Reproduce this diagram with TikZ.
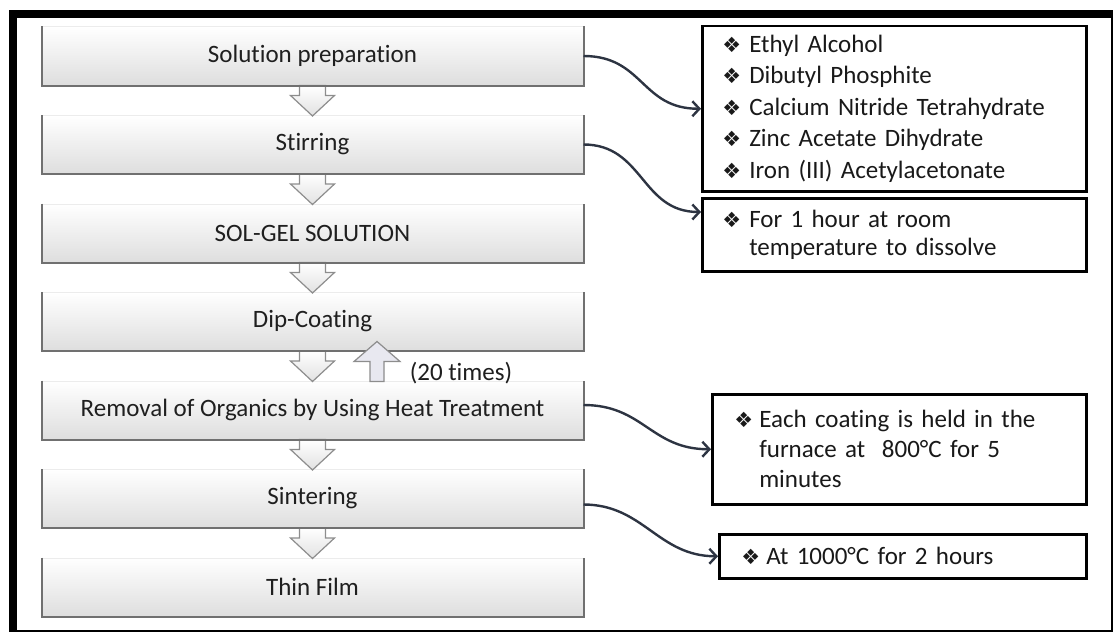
\documentclass[tikz,border=0pt]{standalone}
\usepackage{fontspec}
\setmainfont{Carlito}[Ligatures=NoCommon]
\newfontfamily\dejavu{DejaVu Sans}
\usetikzlibrary{arrows.meta,calc}
\definecolor{linkcol}{RGB}{45,52,66}
\definecolor{edgecol}{RGB}{112,112,112}
\definecolor{shadecol}{RGB}{222,222,222}
\definecolor{upcol}{RGB}{232,232,240}
\newcommand{\bul}[1][27pt]{\makebox[#1][l]{\dejavu\fontsize{21}{21}\selectfont ❖}}
\tikzset{
  stepbox/.style={draw=gray!15, line width=1pt, minimum width=541pt, minimum height=58pt,
    inner sep=0pt, top color=white, bottom color=shadecol, text=black!88,
    font=\fontsize{25}{30}\selectfont},
  boxedge/.style={draw=edgecol, line width=2pt},
  notebox/.style={draw=black, line width=2.5pt, anchor=north west, align=left,
    inner ysep=0pt, text=black!90},
  chev/.style={draw=edgecol!80, line width=1.2pt, top color=white, bottom color=shadecol!90},
  link/.style={draw=linkcol, line width=2.4pt, -{Straight Barb[length=7pt,width=15pt]}}
}
\begin{document}
\begin{tikzpicture}[x=1pt,y=-1pt]
\useasboundingbox (0,0) rectangle (1118,634);
% frame
\fill (9,10) rectangle (1113,18);
\fill (9,10) rectangle (17,632);
\draw[line width=2pt] (1112,17) -- (1112,631) -- (16,631);
% steps
\node[stepbox] (sol) at (312.5,56) {Solution preparation};
\node[stepbox] (stir) at (312.5,144.5) {Stirring};
\node[stepbox] (solgel) at (312.5,233) {SOL-GEL SOLUTION};
\node[stepbox] (dip) at (312.5,321.5) {Dip-Coating};
\node[stepbox] (removal) at (312.5,410) {Removal of Organics by Using Heat Treatment};
\node[stepbox] (sinter) at (312.5,498.5) {Sintering};
\node[stepbox] (film) at (312.5,587) {Thin Film};
\foreach \a/\b in {sol/stir,stir/solgel,solgel/dip,dip/removal,removal/sinter,sinter/film}
  \draw[chev] ($(\a.south)+(-13,0)$) -- ($(\a.south)+(13,0)$) -- ($(\a.south)+(13,10)$)
    -- ($(\a.south)+(22,10)$) -- ($(\b.north)+(0,1)$) -- ($(\a.south)+(-22,10)$)
    -- ($(\a.south)+(-13,10)$) -- cycle;
\foreach \n in {sol,stir,solgel,dip,removal,sinter,film}
  \draw[boxedge] (\n.north west) -- (\n.south west) -- (\n.south east) -- (\n.north east);
% repeat
\draw[chev, top color=upcol, bottom color=upcol] ($(removal.north)+(57.5,1)$) -- ++(14,0) -- ++(0,-20)
  -- ++(16,0) -- ++(-23,-20) -- ++(-23,20) -- ++(16,0) -- cycle;
\node[font=\fontsize{25}{30}\selectfont, text=black!88] (times) at (461,373) {(20 times)};
% notes
\node[notebox, inner xsep=20pt, text width=344pt, minimum height=165pt,
  font=\fontsize{25}{31.5}\selectfont] (chem) at (701,25)
  {\bul Ethyl Alcohol\\ \bul Dibutyl Phosphite\\ \bul Calcium Nitride Tetrahydrate\\
   \bul Zinc Acetate Dihydrate\\ \bul Iron (III) Acetylacetonate};
\node[notebox, inner xsep=20pt, text width=344pt, minimum height=73pt,
  font=\fontsize{25}{28}\selectfont] (stirnote) at (701,197)
  {\bul For 1 hour at room\\ \hspace*{27pt}temperature to dissolve};
\node[notebox, inner xsep=22pt, text width=330pt, minimum height=110pt,
  font=\fontsize{25}{30}\selectfont] (heatnote) at (711,393)
  {\bul[25pt]Each coating is held in the\\ \hspace*{25pt}furnace at\ \ 800°C for 5\\ \hspace*{25pt}minutes};
\node[notebox, inner xsep=22pt, text width=323pt, minimum height=44pt,
  font=\fontsize{25}{30}\selectfont] (sinternote) at (718,533)
  {\bul[25pt]At 1000°C for 2 hours};
% links
\draw[link] (sol.east) .. controls +(60,0) and +(-60,0) .. (chem.west);
\draw[link] (stir.east) .. controls +(60,0) and +(-60,0) .. ($(stirnote.north west)+(0,15)$);
\draw[link] ($(removal.east)+(0,-5)$) .. controls +(60,0) and +(-60,0) .. (heatnote.west);
\draw[link] ($(sinter.east)+(0,6)$) .. controls +(60,0) and +(-60,0) .. (sinternote.west);
\end{tikzpicture}
\end{document}
